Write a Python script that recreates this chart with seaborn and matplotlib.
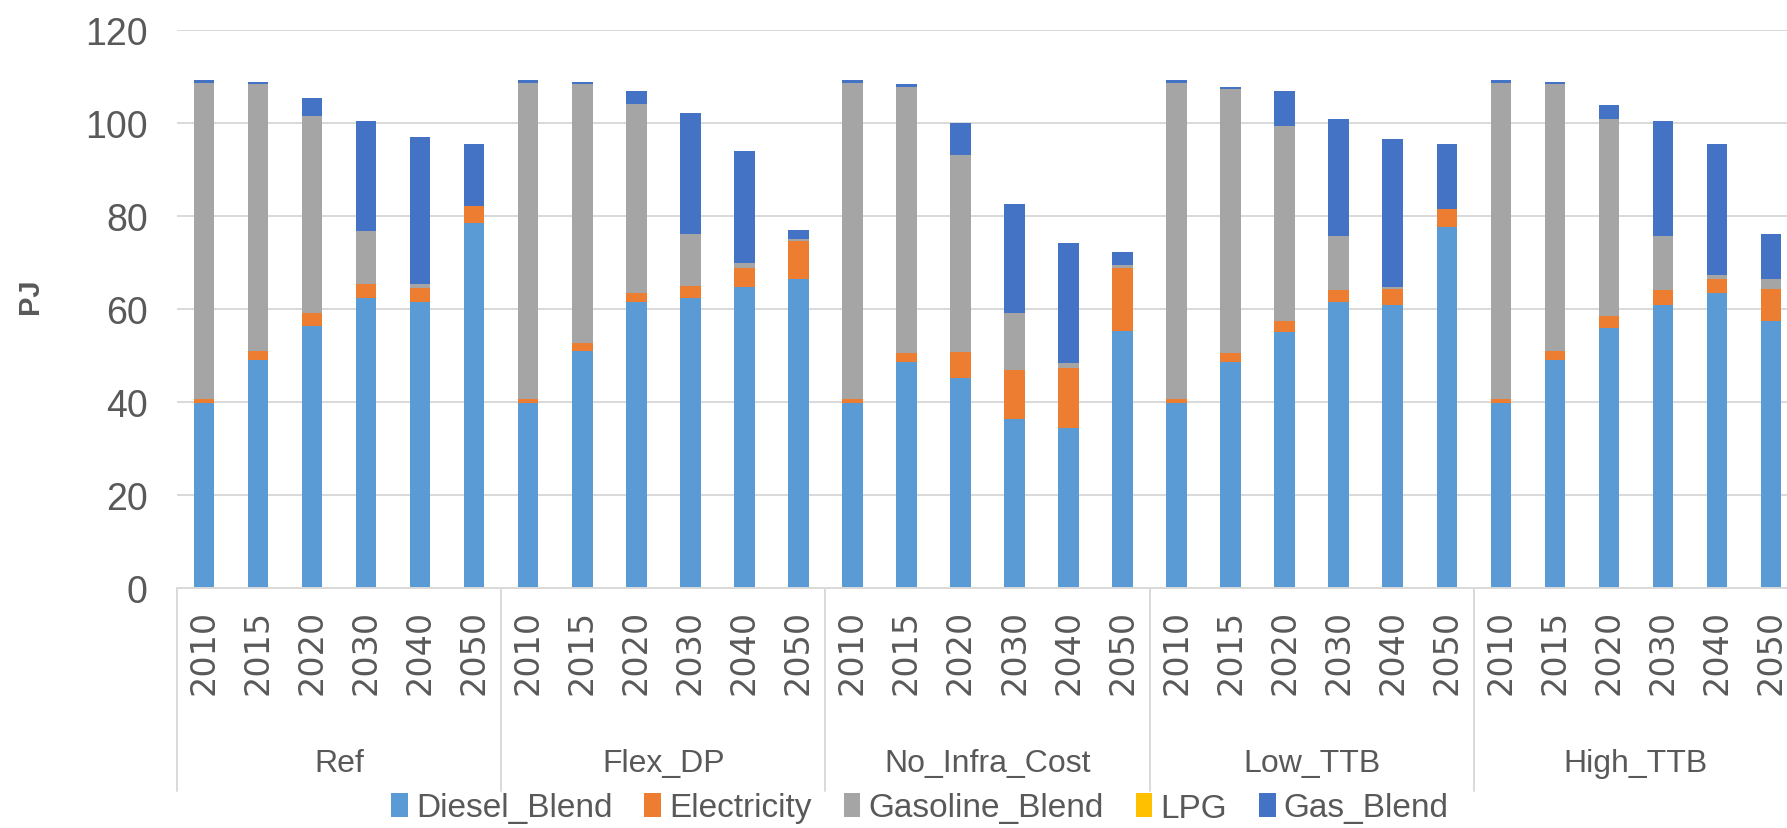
import numpy as np
import pandas as pd
import matplotlib
matplotlib.use("Agg")
import matplotlib.pyplot as plt
import matplotlib.transforms as mtransforms
from matplotlib.patches import Patch
import seaborn as sns

# Scenario / year layout of the two-level category axis
scenarios = ["Ref", "Flex_DP", "No_Infra_Cost", "Low_TTB", "High_TTB"]
years = ["2010", "2015", "2020", "2030", "2040", "2050"]
fuels = ["Diesel_Blend", "Electricity", "Gasoline_Blend", "LPG", "Gas_Blend"]
fuel_colors = ["#5B9BD5", "#ED7D31", "#A5A5A5", "#FFC000", "#4472C4"]

# Energy use by fuel (PJ), scenarios in order, six years each
diesel_blend = [39.7, 49.0, 56.3, 62.3, 61.4, 78.6,
                39.7, 51.0, 61.4, 62.3, 64.8, 66.4,
                39.7, 48.6, 45.2, 36.4, 34.4, 55.2,
                39.7, 48.5, 55.0, 61.4, 60.9, 77.6,
                39.7, 49.0, 55.9, 60.9, 63.4, 57.4]
electricity = [0.9, 2.0, 2.8, 3.0, 3.1, 3.5,
               0.9, 1.6, 2.0, 2.7, 4.1, 8.3,
               0.9, 2.0, 5.6, 10.4, 12.9, 13.7,
               0.9, 2.1, 2.5, 2.6, 3.5, 4.0,
               0.9, 2.0, 2.6, 3.1, 3.0, 7.0]
gasoline_blend = [68.1, 57.3, 42.3, 11.4, 0.8, 0.0,
                  68.1, 55.7, 40.6, 11.2, 1.0, 0.3,
                  68.1, 57.2, 42.4, 12.3, 1.0, 0.5,
                  68.1, 56.7, 41.9, 11.8, 0.4, 0.0,
                  68.1, 57.3, 42.4, 11.8, 0.9, 2.0]
lpg = [0.0] * 30
gas_blend = [0.5, 0.5, 4.0, 23.7, 31.7, 13.4,
             0.5, 0.5, 2.9, 26.0, 24.1, 2.0,
             0.5, 0.5, 6.7, 23.5, 25.9, 2.8,
             0.5, 0.5, 7.5, 25.1, 31.7, 13.9,
             0.5, 0.5, 2.9, 24.6, 28.1, 9.7]

sns.set_theme(style="white")
plt.rcParams["font.family"] = ["Liberation Sans Narrow", "Liberation Sans", "DejaVu Sans"]

TEXT = "#595959"
GRID = "#D9D9D9"

series = np.array([diesel_blend, electricity, gasoline_blend, lpg, gas_blend])
stacked = np.cumsum(series, axis=0)

df = pd.DataFrame({
    "scenario": np.repeat(scenarios, len(years)),
    "year": years * len(scenarios),
})
df["bar"] = df["scenario"] + " " + df["year"]
for k, f in enumerate(fuels):
    df[f] = series[k]
    df["top_" + f] = stacked[k]
bar_order = list(df["bar"])

W, H, DPI = 17.87, 8.29, 100
fig = plt.figure(figsize=(W, H), dpi=DPI)
px_w, px_h = W * DPI, H * DPI
ax_left, ax_right, ax_top, ax_bottom = 177, 1798, 31, 589
ax = fig.add_axes([ax_left / px_w, 1 - ax_bottom / px_h,
                   (ax_right - ax_left) / px_w, (ax_bottom - ax_top) / px_h])

# Stacked bars: draw cumulative heights from the top segment down
for k in reversed(range(len(fuels))):
    sns.barplot(data=df, x="bar", y="top_" + fuels[k], order=bar_order,
                color=fuel_colors[k], saturation=1, width=0.38,
                linewidth=0, errorbar=None, ax=ax)

ax.set_xlim(-0.5, len(bar_order) - 0.5)
ax.set_ylim(0, 120)
ax.set_yticks(np.arange(0, 121, 20))
ax.set_xlabel("")
ax.set_ylabel("")
ax.yaxis.grid(True, color=GRID, linewidth=1.4)
ax.xaxis.grid(False)
ax.set_axisbelow(True)
for side in ["top", "right", "left"]:
    ax.spines[side].set_visible(False)
ax.spines["bottom"].set_color(GRID)
ax.spines["bottom"].set_linewidth(1.4)

ax.tick_params(axis="y", length=0, pad=21, labelsize=27, labelcolor=TEXT)
ax.set_xticks(range(len(bar_order)))
ax.set_xticklabels(df["year"], rotation=90, family="DejaVu Sans",
                   fontsize=24, color=TEXT)
ax.tick_params(axis="x", length=0, pad=15)

# Outer category level: scenario names and separators
trans = mtransforms.blended_transform_factory(ax.transData, ax.transAxes)
ax_h_px = ax_bottom - ax_top
sep_depth = -(792 - ax_bottom) / ax_h_px
label_y = -(764 - ax_bottom) / ax_h_px
n = len(years)
for g, name in enumerate(scenarios):
    ax.text(g * n + (n - 1) / 2, label_y, name, transform=trans,
            ha="center", va="center", fontsize=23, color=TEXT)
    ax.plot([g * n - 0.5, g * n - 0.5], [0, sep_depth], transform=trans,
            color=GRID, linewidth=1.4, clip_on=False)

fig.text(30 / px_w, 1 - 296 / px_h, "PJ", rotation=90, ha="center", va="center",
         fontsize=21, fontweight="bold", color=TEXT)

handles = [Patch(facecolor=c, edgecolor="none", label=f)
           for f, c in zip(fuels, fuel_colors)]
fig.legend(handles=handles, loc="center", bbox_to_anchor=(920 / px_w, 1 - 809 / px_h),
           ncol=5, frameon=False, fontsize=24, handlelength=0.5, handleheight=0.75,
           handletextpad=0.25, columnspacing=0.95, labelcolor=TEXT,
           borderaxespad=0, borderpad=0)

fig.savefig("out.png", dpi=DPI)
